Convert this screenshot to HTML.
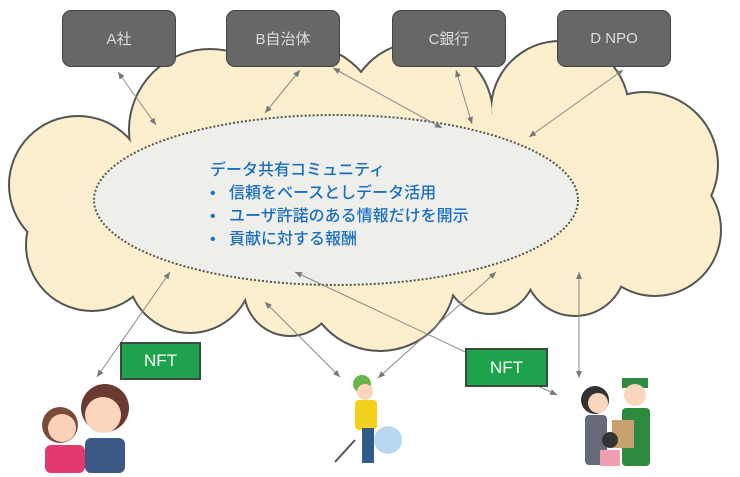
<!DOCTYPE html><html><head><meta charset="utf-8"><style>
body{margin:0;background:#fff;width:740px;height:477px;overflow:hidden;position:relative;font-family:"Liberation Sans","Noto Sans CJK JP",sans-serif}
.box{position:absolute;top:10px;width:114px;height:57px;background:#676767;border:1.5px solid #444;border-radius:9px;color:#ddd;font-size:15px;display:flex;align-items:center;justify-content:center;box-sizing:border-box}
.nft{position:absolute;background:#1ea24b;border:2px solid #3a4a3e;color:#fff;font-size:17px;display:flex;align-items:center;justify-content:center;box-sizing:border-box}
.t{position:absolute;color:#1a6fc2;font-size:16px;font-weight:500;left:210px;white-space:nowrap}
</style></head><body>
<svg width="740" height="477" style="position:absolute;left:0;top:0">
<defs><marker id="a" markerWidth="8" markerHeight="8" refX="7" refY="4" orient="auto-start-reverse"><path d="M0,1 L7,4 L0,7z" fill="#777"/></marker></defs>
<g stroke="#555" stroke-width="4" fill="#555">
<circle cx="210" cy="130" r="80"/><circle cx="78" cy="185" r="68"/><circle cx="92" cy="245" r="65"/><circle cx="190" cy="270" r="62"/><circle cx="380" cy="275" r="75"/><circle cx="300" cy="125" r="80"/><circle cx="420" cy="115" r="72"/><circle cx="560" cy="110" r="68"/><circle cx="645" cy="165" r="72"/><circle cx="655" cy="230" r="65"/><circle cx="575" cy="265" r="50"/><circle cx="290" cy="290" r="45"/><circle cx="490" cy="268" r="45"/>
</g>
<g fill="#fcefcd">
<circle cx="210" cy="130" r="80"/><circle cx="78" cy="185" r="68"/><circle cx="92" cy="245" r="65"/><circle cx="190" cy="270" r="62"/><circle cx="380" cy="275" r="75"/><circle cx="300" cy="125" r="80"/><circle cx="420" cy="115" r="72"/><circle cx="560" cy="110" r="68"/><circle cx="645" cy="165" r="72"/><circle cx="655" cy="230" r="65"/><circle cx="575" cy="265" r="50"/><circle cx="290" cy="290" r="45"/><circle cx="490" cy="268" r="45"/>
<ellipse cx="370" cy="195" rx="270" ry="90"/>
</g>
<ellipse cx="336" cy="200" rx="242" ry="85" fill="#eeeeea" stroke="#555" stroke-width="2" stroke-dasharray="2,2"/>
<g stroke="#888" stroke-width="1" marker-start="url(#a)" marker-end="url(#a)">
<line x1="118" y1="72" x2="156" y2="125"/><line x1="300" y1="70" x2="265" y2="113"/><line x1="333" y1="68" x2="442" y2="128"/><line x1="456" y1="70" x2="472" y2="124"/><line x1="623" y1="70" x2="529" y2="137"/>
<line x1="170" y1="272" x2="97" y2="377"/><line x1="295" y1="272" x2="557" y2="395"/><line x1="265" y1="302" x2="340" y2="377"/><line x1="496" y1="272" x2="378" y2="378"/><line x1="579" y1="272" x2="579" y2="378"/>
</g>
<g>
<circle cx="60" cy="425" r="18" fill="#7a4a3a"/><circle cx="62" cy="428" r="14" fill="#fbd3b8"/><rect x="45" y="445" width="40" height="28" rx="6" fill="#e23a6c"/>
<circle cx="105" cy="408" r="24" fill="#6a3a30"/><circle cx="103" cy="415" r="18" fill="#fcd6bc"/><rect x="85" y="438" width="40" height="35" rx="6" fill="#3d5a86"/>
<circle cx="362" cy="384" r="9" fill="#6ab54a"/><circle cx="365" cy="392" r="8" fill="#fcd6bc"/><rect x="355" y="400" width="22" height="30" rx="4" fill="#f2d21a"/><rect x="362" y="428" width="12" height="35" fill="#2f5a8a"/><circle cx="388" cy="440" r="14" fill="#b8d8f2"/><line x1="355" y1="440" x2="335" y2="462" stroke="#555" stroke-width="2"/>
<circle cx="595" cy="400" r="14" fill="#333"/><circle cx="598" cy="403" r="10" fill="#fcd6bc"/><rect x="585" y="415" width="22" height="50" rx="4" fill="#666a78"/>
<rect x="622" y="378" width="26" height="10" fill="#2e8a3e"/><circle cx="635" cy="395" r="11" fill="#fcd6bc"/><rect x="622" y="408" width="28" height="58" rx="4" fill="#2e8a3e"/><rect x="612" y="420" width="22" height="28" fill="#c8a070"/><circle cx="610" cy="440" r="8" fill="#333"/><rect x="600" y="450" width="20" height="16" fill="#f0a0b0"/>
</g>
</svg>
<div class="box" style="left:62px">A社</div>
<div class="box" style="left:226px">B自治体</div>
<div class="box" style="left:392px">C銀行</div>
<div class="box" style="left:557px">D NPO</div>
<div class="t" style="top:156px">データ共有コミュニティ</div>
<div class="t" style="top:179px">•&nbsp;&nbsp;&nbsp;信頼をベースとしデータ活用</div>
<div class="t" style="top:202px">•&nbsp;&nbsp;&nbsp;ユーザ許諾のある情報だけを開示</div>
<div class="t" style="top:225px">•&nbsp;&nbsp;&nbsp;貢献に対する報酬</div>
<div class="nft" style="left:120px;top:342px;width:81px;height:38px">NFT</div>
<div class="nft" style="left:465px;top:348px;width:83px;height:39px">NFT</div>
</body></html>
